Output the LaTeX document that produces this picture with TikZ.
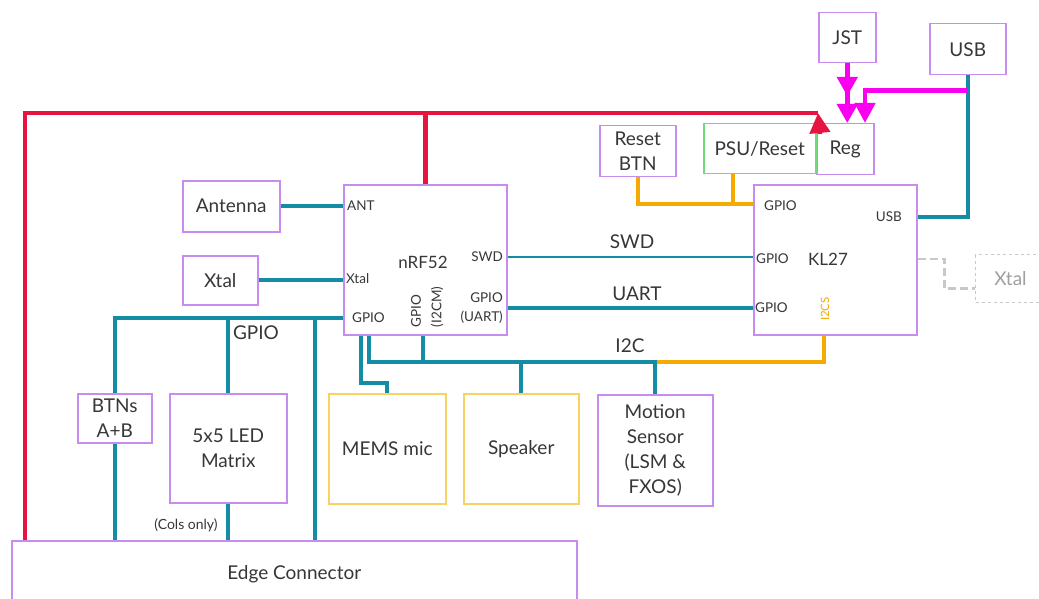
\documentclass[tikz,border=0pt]{standalone}
\usepackage{fontspec}
\setmainfont{Lato}
\usetikzlibrary{arrows.meta,calc}
\definecolor{tealc}{RGB}{20,140,165}
\definecolor{redc}{RGB}{230,20,65}
\definecolor{pinkc}{RGB}{250,0,240}
\definecolor{orc}{RGB}{245,170,0}
\definecolor{boxc}{RGB}{200,140,240}
\definecolor{yelc}{RGB}{248,210,100}
\definecolor{grnc}{RGB}{110,220,120}
\definecolor{txtc}{RGB}{55,55,55}
\definecolor{dashc}{RGB}{200,200,200}
\newcommand{\mybig}{\fontsize{19}{25}\selectfont}
\newcommand{\mymid}{\fontsize{17}{20}\selectfont}
\newcommand{\mysmall}{\fontsize{13.5}{19}\selectfont}
\tikzset{
  blk/.style={draw=boxc, line width=1.5, fill=white, inner sep=0, align=center, text=txtc, font=\mybig, anchor=north west},
  tl/.style={draw=tealc, line width=4},
  tthin/.style={draw=tealc, line width=2.5},
  redl/.style={draw=redc, line width=4.5},
  pinkl/.style={draw=pinkc, line width=4.5},
  orl/.style={draw=orc, line width=4},
  dashl/.style={draw=dashc, line width=2.5, dash pattern=on 8 off 4},
  lbl/.style={text=txtc, inner sep=0, font=\mybig},
  sml/.style={text=txtc, inner sep=0, font=\mysmall},
  tipc/.style={-{Triangle[length=20,width=20]}},
}
\begin{document}
\begin{tikzpicture}[x=1pt,y=-1pt]
\useasboundingbox (0,0) rectangle (1039,599);
\clip (0,0) rectangle (1039,599);
\fill[white] (0,0) rectangle (1039,599);

% boxes
\node[blk, minimum width=57, minimum height=50] (jst) at (818,12) {JST};
\node[blk, minimum width=76, minimum height=51] (usb) at (929,23) {USB};
\node[blk, minimum width=57, minimum height=51] (reg) at (816,123) {Reg};
\node[blk, draw=grnc, minimum width=112, minimum height=50] (psu) at (703,123) {PSU/Reset};
\node[blk, minimum width=76, minimum height=51] (rbtn) at (599,125) {Reset\\BTN};
\node[blk, minimum width=163, minimum height=150] (kl) at (753,184) {};
\node[blk, minimum width=163, minimum height=150] (nrf) at (343,184) {};
\node[blk, minimum width=97, minimum height=51] (ant) at (182,180) {Antenna};
\node[blk, minimum width=75, minimum height=49] (xtl) at (182,255) {Xtal};
\node[blk, draw=dashc, dashed, line width=1, text=dashc!80!black, minimum width=75, minimum height=48] (xtr) at (975,254) {\hspace*{-5pt}Xtal};
\node[blk, draw=yelc, minimum width=117, minimum height=110] (mems) at (328,393) {MEMS mic};
\node[blk, draw=yelc, minimum width=115, minimum height=110] (spk) at (463,393) {Speaker};
\node[blk, minimum width=115, minimum height=111] (mot) at (597,394) {Motion\\Sensor\\(LSM \&\\FXOS)};
\node[blk, minimum width=74, minimum height=49] (btn) at (77,393) {BTNs\\A+B};
\node[blk, minimum width=117, minimum height=109] (led) at (169,393) {5x5 LED\\Matrix};
\node[blk, minimum width=565, minimum height=66] (edge) at (11,540) {Edge Connector};

% nRF52 inner labels
\node[lbl, font=\mymid] (nrfl) at (423,262) {nRF52};
\node[sml, anchor=west] (nant) at (347,206) {ANT};
\node[sml, anchor=west] (nxtal) at (346,279) {Xtal};
\node[sml, anchor=west] (ngpio) at (352,318) {GPIO};
\node[sml, anchor=east] (nswd) at (503,257) {SWD};
\node[sml, anchor=east, align=right] (nuart) at (503,308) {GPIO\\(UART)};
\node[sml, rotate=90] (ngi) at (416,311) {GPIO};
\node[sml, rotate=90] (ni2cm) at (437,307) {(I2CM)};

% KL27 inner labels
\node[lbl, font=\mymid] (kll) at (828,259) {KL27};
\node[sml, anchor=west] (kg1) at (764,206) {GPIO};
\node[sml, anchor=east] (kusb) at (902,217) {USB};
\node[sml, anchor=west] (kg2) at (756,259) {GPIO};
\node[sml, anchor=west] (kg3) at (755,308) {GPIO};
\node[sml, rotate=90, text=orc, font=\fontsize{11.5}{13}\selectfont] (ki2cs) at (825,309) {I2CS};

% line labels
\node[lbl] (lswd) at (632,242) {SWD};
\node[lbl] (luart) at (637,294) {UART};
\node[lbl] (li2c) at (630,346) {I2C};
\node[lbl] (lgpio) at (256,333) {GPIO};
\node[sml, font=\fontsize{14}{15}\selectfont] (lcols) at (186,525) {(Cols only)};

% power (red)
\coordinate (pw) at (818,113);
\draw[redl] ([xshift=14]edge.north west) |- (pw);
\draw[redl] (nrf.north) -- (nrf.north |- pw);
\draw[redl, tipc] ([xshift=2,yshift=-21]pw) -- (pw);

% USB and pink supply
\draw[tl] (usb.south) |- ([yshift=-33]kl.north east);
\draw[pinkl, tipc] ([yshift=-15]usb.south) -| ([xshift=49]reg.north west);
\draw[pinkl, -{Triangle[length=19,width=20,sep=8]Triangle[length=19,width=20]}] (jst.south) -- (jst.south |- reg.north);

% nRF peripherals
\draw[tl] (ant.east) -- (ant.east -| nrf.west);
\draw[tl] (xtl.east) -- (xtl.east -| nrf.west);
\draw[tthin] ([yshift=-73]nrf.north east) -- ([yshift=-73]kl.north west);
\draw[tl] ([yshift=-124]nrf.north east) -- ([yshift=-124]kl.north west);

% reset
\draw[orl] (rbtn.south) |- ([yshift=-20]kl.north west);
\draw[orl] ([xshift=-27]psu.south) -- ++(0,31);

% I2C
\coordinate (i2cj) at ([yshift=32]mot.north);
\draw[orl] ([xshift=71]kl.south west) |- (i2cj);
\draw[tl] (mot.north) -- (i2cj) -| ([xshift=26]nrf.south west);
\draw[tl] ([xshift=80]nrf.south west) -- ([xshift=80]nrf.south west |- i2cj);
\draw[tl] (spk.north) -- (spk.north |- i2cj);
\draw[tl] ([xshift=18]nrf.south west) |- ([yshift=10]mems.north) -- (mems.north);

% GPIO bus to the left
\coordinate (gpj) at ([yshift=-134]nrf.north west);
\draw[tl] (gpj) -| (btn.north);
\draw[tl] (btn.south) -- (btn.south |- edge.north);
\draw[tl] (led.north |- gpj) -- (led.north);
\draw[tl] (led.south) -- (led.south |- edge.north);
\draw[tl] ([xshift=-28]gpj) -- ([xshift=-28]gpj |- edge.north);

% dashed crystal
\draw[dashl] ([yshift=-75]kl.north east) -- ++(27,0) |- ([yshift=-10]xtr.west);
\end{tikzpicture}
\end{document}
